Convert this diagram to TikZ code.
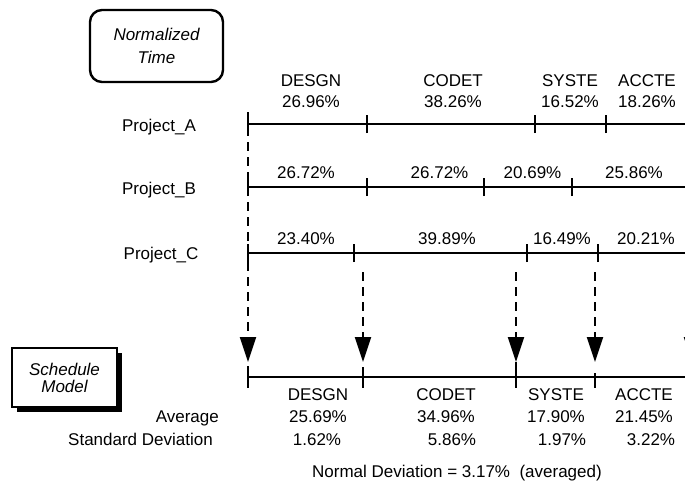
\documentclass[tikz,border=0pt]{standalone}
\usepackage{fontspec}
\setmainfont{Liberation Sans}
\usetikzlibrary{arrows.meta,shadows}
\tikzset{
  txt/.style={
    font=\fontsize{17}{20}\selectfont,
    inner sep=0pt,
    anchor=base
  },
  phase/.style={line width=1.4pt},
  phasetick/.style={line width=2pt},
  flow/.style={
    line width=2pt,
    dash pattern=on 9pt off 6pt,
    -{Triangle[length=25pt,width=16pt]}
  },
  normbox/.style={
    draw,
    line width=2.4pt,
    rounded corners=12pt,
    minimum width=133pt,
    minimum height=72pt,
    inner sep=0pt,
    align=center,
    font=\fontsize{17}{23}\selectfont\itshape
  },
  modelbox/.style={
    draw,
    fill=white,
    line width=2pt,
    minimum width=105pt,
    minimum height=59pt,
    inner sep=0pt,
    align=center,
    font=\fontsize{17}{17}\selectfont\itshape,
    drop shadow={shadow xshift=5pt, shadow yshift=-5pt, fill=black, opacity=1}
  }
}
\newcommand{\phaseticks}[1]{%
  \foreach \t in {#1}
    \draw[phasetick] ([yshift=-9pt]\t) -- ([yshift=9pt]\t);
}

\begin{document}
\begin{tikzpicture}[x=1pt,y=-1pt]
  \useasboundingbox (0,0) rectangle (685,483);
  \clip (0,0) rectangle (685,483);

  % boxes
  \node[normbox] (normtime) at (156.5,46) {Normalized\\Time};
  \node[modelbox] (schedmodel) at (64.5,377.5) {Schedule\\Model};

  % project rows
  \node[txt] (pA) at (159,131) {Project\_A};
  \node[txt] (pB) at (159,194) {Project\_B};
  \node[txt] (pC) at (161,259) {Project\_C};

  \foreach \name/\x in {a0/248,a1/367,a2/535,a3/606,aend/690}
    \coordinate (\name) at (\x,124);
  \foreach \name/\x in {b0/248,b1/367,b2/484,b3/572,bend/690}
    \coordinate (\name) at (\x,187);
  \foreach \name/\x in {c0/248,c1/354,c2/527,c3/598,cend/690}
    \coordinate (\name) at (\x,253);

  \draw[phase] (a0) -- (aend);
  \draw[phase] (b0) -- (bend);
  \draw[phase] (c0) -- (cend);
  \phaseticks{a0,a1,a2,a3}
  \phaseticks{b0,b1,b2,b3}
  \phaseticks{c0,c1,c2,c3}

  \foreach \x/\ph/\pc [count=\i] in
      {311/DESGN/26.96,453/CODET/38.26,570/SYSTE/16.52,647/ACCTE/18.26} {
    \node[txt] (ph\i) at (\x,86) {\ph};
    \node[txt] (pa\i) at (\x,107) {\pc\%};
  }
  \foreach \x/\pc [count=\i] in {306/26.72,439.5/26.72,532.5/20.69,634/25.86}
    \node[txt] (pb\i) at (\x,178) {\pc\%};
  \foreach \x/\pc [count=\i] in {306/23.40,447/39.89,562/16.49,646/20.21}
    \node[txt] (pc\i) at (\x,244) {\pc\%};

  % mapping onto the schedule model
  \coordinate (s0) at (248,112);
  \foreach \name/\x in {s1/363,s2/516,s3/595,s4/692}
    \coordinate (\name) at (\x,272);
  \foreach \i/\x in {0/248,1/363,2/516,3/595,4/692}
    \coordinate (t\i) at (\x,362);
  \foreach \i in {0,...,4}
    \draw[flow] (s\i) -- (t\i);

  \coordinate (m0) at (248,377);
  \coordinate (mend) at (690,377);
  \draw[phase] (m0) -- (mend);
  \foreach \x/\top in {248/366,363/367,516/362}
    \draw[phasetick] (\x,\top) -- (\x,388);
  \draw[phasetick] (595,373) -- (595,388);

  \node[txt, anchor=base east] (avg) at (219,422) {Average};
  \node[txt, anchor=base east] (std) at (213,445) {Standard Deviation};
  \foreach \x/\ph/\av/\xs/\sd [count=\i] in
      {318/DESGN/25.69/317/1.62,446/CODET/34.96/452/5.86,
       556/SYSTE/17.90/562/1.97,644/ACCTE/21.45/651/3.22} {
    \node[txt] (mh\i) at (\x,400) {\ph};
    \node[txt] (ma\i) at (\x,422) {\av\%};
    \node[txt] (ms\i) at (\xs,445) {\sd\%};
  }
  \node[txt] (normdev) at (457,477) {Normal Deviation = 3.17\%\ \ (averaged)};
\end{tikzpicture}
\end{document}
